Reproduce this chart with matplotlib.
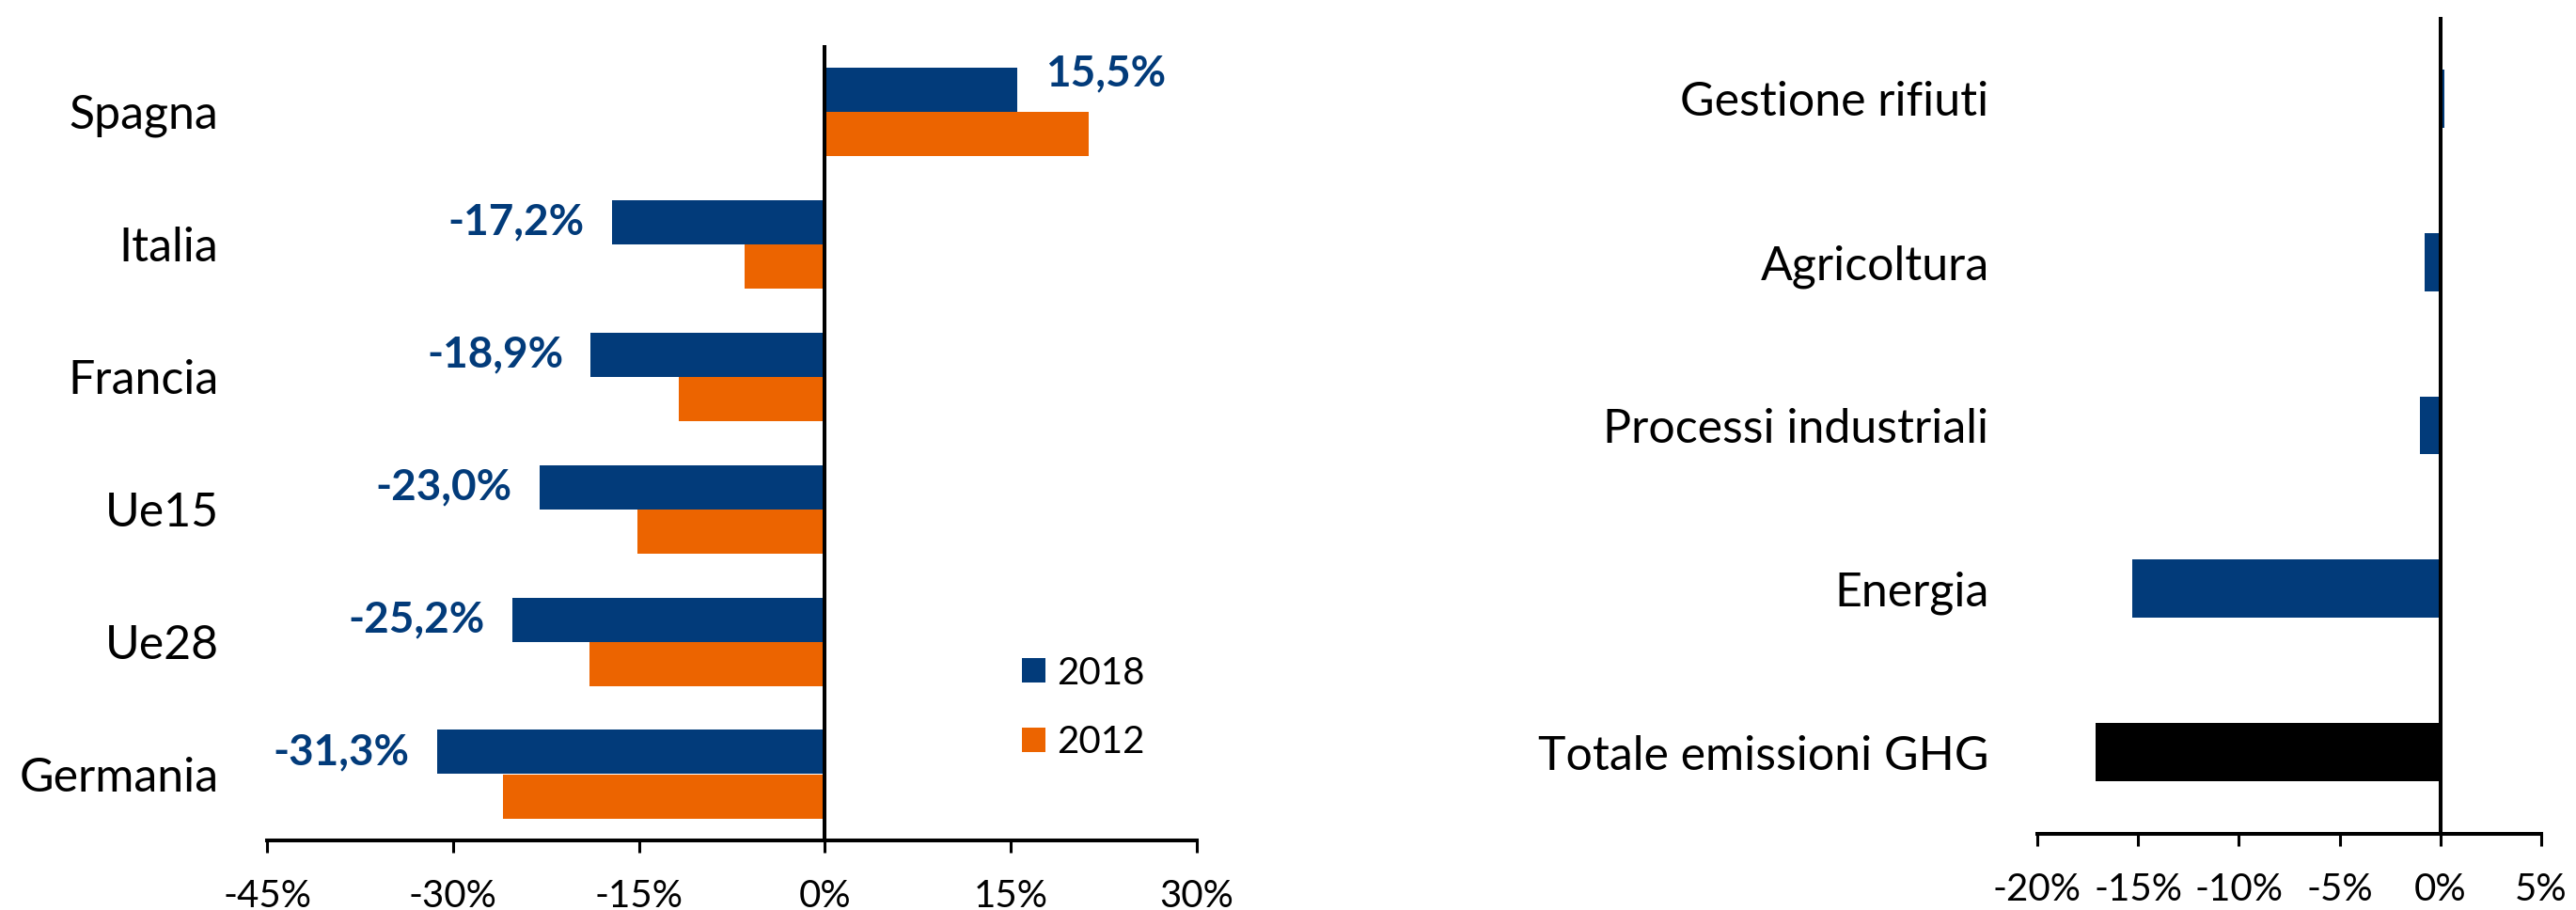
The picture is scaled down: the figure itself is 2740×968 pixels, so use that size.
import matplotlib
matplotlib.use("Agg")
import matplotlib.pyplot as plt
from matplotlib.ticker import FuncFormatter

plt.rcParams["font.family"] = ["Lato", "DejaVu Sans"]

# Emission change by country (%), two reference years
countries = ["Spagna", "Italia", "Francia", "Ue15", "Ue28", "Germania"]
change_2018 = [15.5, -17.2, -18.9, -23.0, -25.2, -31.3]
change_2012 = [21.3, -6.5, -11.8, -15.1, -19.0, -26.0]
series_labels = ["2018", "2012"]

# Emission change by sector (%)
sectors = ["Gestione rifiuti", "Agricoltura", "Processi industriali",
           "Energia", "Totale emissioni GHG"]
sector_change = [0.2, -0.8, -1.0, -15.3, -17.1]

left_ticks = [-45, -30, -15, 0, 15, 30]
right_ticks = [-20, -15, -10, -5, 0, 5]

NAVY = "#023B7A"
ORANGE = "#EC6400"
BLACK = "#000000"

W, H = 2740, 968
fig = plt.figure(figsize=(W / 100, H / 100), dpi=100)


def px_axes(x0, y0, x1, y1):
    return fig.add_axes([x0 / W, 1 - y1 / H, (x1 - x0) / W, (y1 - y0) / H])


ax1 = px_axes(284, 48, 1273, 894)
ax2 = px_axes(2167, 18, 2703, 887)

pct = FuncFormatter(lambda v, _: f"{v:.0f}%")


def style_axis(ax, ticks):
    for s in ("top", "right", "left"):
        ax.spines[s].set_visible(False)
    ax.spines["bottom"].set_linewidth(2.9)
    ax.set_xticks(ticks)
    ax.set_xlim(ticks[0], ticks[-1])
    ax.xaxis.set_major_formatter(pct)
    ax.tick_params(axis="x", direction="out", length=9.5, width=2.2,
                   labelsize=29, pad=20)
    ax.tick_params(axis="y", length=0, labelsize=36, pad=37)
    ax.axvline(0, color="black", lw=2.9, zorder=5)


# Left panel: grouped horizontal bars by country
bh = 1 / 3
ypos = list(range(len(countries)))
b18 = ax1.barh([y - bh / 2 for y in ypos], change_2018, height=bh,
               color=NAVY, label=series_labels[0], zorder=3)
b12 = ax1.barh([y + bh / 2 for y in ypos], change_2012, height=bh,
               color=ORANGE, label=series_labels[1], zorder=3)
ax1.set_yticks(ypos)
ax1.set_yticklabels(countries)
ax1.set_ylim(len(countries) - 0.5, -0.5)
style_axis(ax1, left_ticks)

for y, v in zip(ypos, change_2018):
    txt = f"{v:.1f}".replace(".", ",") + "%"
    if v >= 0:
        ax1.annotate(txt, (v, y - bh / 2), xytext=(22, 12),
                     textcoords="offset points", ha="left", va="center",
                     fontsize=33, fontweight="bold", color=NAVY)
    else:
        ax1.annotate(txt, (v, y - bh / 2), xytext=(-21, 0),
                     textcoords="offset points", ha="right", va="center",
                     fontsize=33, fontweight="bold", color=NAVY)

ax1.legend(handles=[b18, b12], loc="center left",
           bbox_to_anchor=(0.812, 0.167), frameon=False, fontsize=29,
           handlelength=0.62, handleheight=0.62, handletextpad=0.3,
           labelspacing=0.9, borderpad=0, borderaxespad=0)

# Right panel: change by sector
spos = list(range(len(sectors)))
colors = [NAVY] * (len(sectors) - 1) + [BLACK]
ax2.barh(spos, sector_change, height=0.355, color=colors, zorder=3)
ax2.set_yticks(spos)
ax2.set_yticklabels(sectors)
ax2.set_ylim(len(sectors) - 0.5, -0.5)
style_axis(ax2, right_ticks)

fig.savefig("out.png", dpi=100, facecolor="white")
